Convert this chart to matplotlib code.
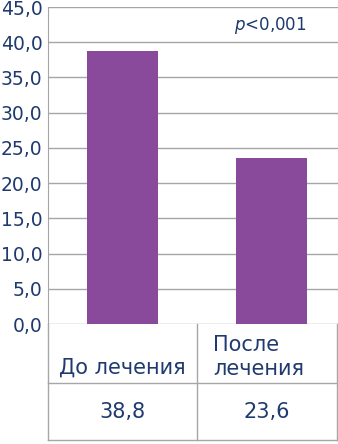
import matplotlib.pyplot as plt
from matplotlib.lines import Line2D

categories = ["До лечения", "После\nлечения"]
values = [38.8, 23.6]
value_labels = ["38,8", "23,6"]
yticks = [0, 5, 10, 15, 20, 25, 30, 35, 40, 45]

W, H = 338, 444
txt = "#1f3a6e"
bar_col = "#8a4a9b"
grid_col = "#a6a6a6"

fig = plt.figure(figsize=(W / 100, H / 100), dpi=100)
plt.rcParams['font.family'] = ['DejaVu Sans']

# plot area in pixels
left, right, top, bottom = 48, 346, 7, 324
ax = fig.add_axes([left / W, 1 - bottom / H, (right - left) / W, (bottom - top) / H])
ax.bar(range(len(values)), values, width=0.47, color=bar_col, zorder=3)
ax.set_xlim(-0.5, 1.5)
ax.set_ylim(0, 45)
ax.set_yticks(yticks)
ax.set_yticklabels([f"{v:.1f}".replace(".", ",") for v in yticks], color=txt, fontsize=13.5)
ax.set_xticks([])
ax.tick_params(axis="y", length=0, pad=4)
ax.grid(axis="y", color=grid_col, lw=1, zorder=0)
for s in ["top", "right", "bottom"]:
    ax.spines[s].set_visible(False)
ax.spines["left"].set_color(grid_col)
ax.text(0.99, 42.4, r"$\it{p}$<0,001", color=txt, fontsize=12, ha="center", va="center")

# table below the axes (pixel coordinates)
def px(x, y):
    return x / W, 1 - y / H

def hline(y, x0, x1):
    fig.add_artist(Line2D([x0 / W, x1 / W], [1 - y / H, 1 - y / H], color=grid_col, lw=1))

def vline(x, y0, y1):
    fig.add_artist(Line2D([x / W, x / W], [1 - y0 / H, 1 - y1 / H], color=grid_col, lw=1))

row1, row2, row3 = 324, 383, 440
xl, xm, xr = 48, 197, 337
hline(row2, xl, xr)
hline(row3, xl, xr)
vline(xl, row1, row3)
vline(xm, row1, row3)
vline(xr, row1, row3)

cell_centers = [(xl + xm) / 2, (xm + xr) / 2]
for cx, cat, lab in zip(cell_centers, categories, value_labels):
    if "\n" in cat:
        fig.text(*px(xm + 16, 357), cat, color=txt, fontsize=15, ha="left", va="center",
                 linespacing=1.3, multialignment="left")
    else:
        fig.text(*px(cx, 368), cat, color=txt, fontsize=15, ha="center", va="center")
    fig.text(*px(cx, 412), lab, color=txt, fontsize=15, ha="center", va="center")

fig.savefig("out.png", dpi=100)
